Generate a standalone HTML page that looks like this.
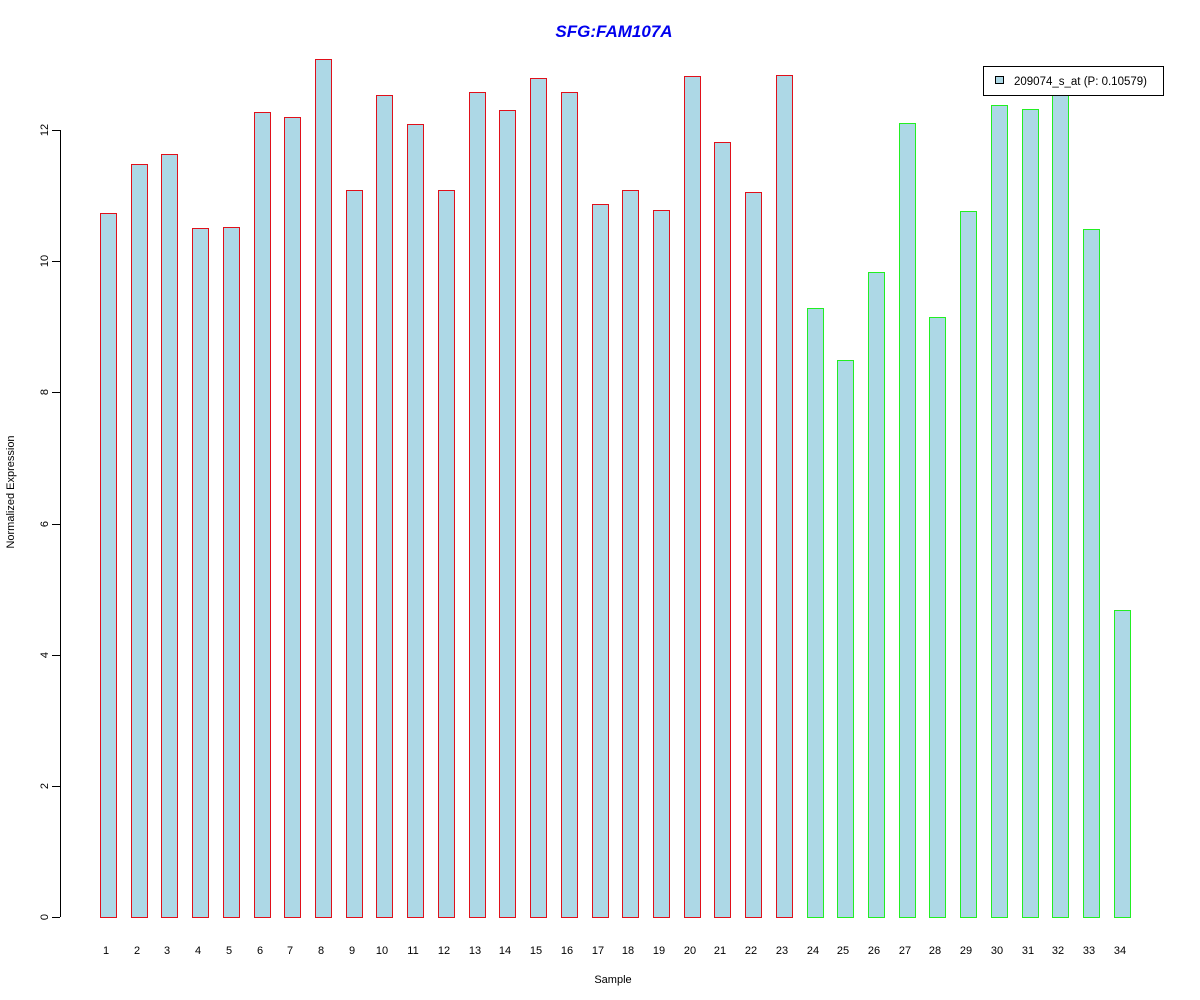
<!DOCTYPE html>
<html><head><meta charset="utf-8"><style>html,body{margin:0;padding:0;background:#fff}
.b{position:absolute;box-sizing:border-box;background:#add8e6;width:17px;bottom:82px;border:1px solid #e0101a}
.g{border-color:#22ee22}
.t{position:absolute;top:945px;font:11px "Liberation Sans",Arial,sans-serif;width:30px;margin-left:-15px;text-align:center}
</style></head>
<body>
<div style="position:relative;width:1200px;height:1000px;overflow:hidden">
<svg width="1200" height="1000" xmlns="http://www.w3.org/2000/svg" font-family="Liberation Sans, Arial, sans-serif" style="position:absolute;left:0;top:0">
<text x="614" y="37" text-anchor="middle" font-size="17" font-weight="bold" font-style="italic" fill="#0000ee">SFG:FAM107A</text>
<g stroke="#000" stroke-width="1" fill="none">
<line x1="60.5" y1="130" x2="60.5" y2="917"/>
<line x1="52" y1="917.5" x2="60" y2="917.5"/>
<line x1="52" y1="786.5" x2="60" y2="786.5"/>
<line x1="52" y1="655.5" x2="60" y2="655.5"/>
<line x1="52" y1="524.5" x2="60" y2="524.5"/>
<line x1="52" y1="392.5" x2="60" y2="392.5"/>
<line x1="52" y1="261.5" x2="60" y2="261.5"/>
<line x1="52" y1="130.5" x2="60" y2="130.5"/>
</g>
<g font-size="11" fill="#000" text-anchor="middle">
<text transform="translate(44,917) rotate(-90)" dy="4">0</text>
<text transform="translate(44,786) rotate(-90)" dy="4">2</text>
<text transform="translate(44,655) rotate(-90)" dy="4">4</text>
<text transform="translate(44,524) rotate(-90)" dy="4">6</text>
<text transform="translate(44,392) rotate(-90)" dy="4">8</text>
<text transform="translate(44,261) rotate(-90)" dy="4">10</text>
<text transform="translate(44,130) rotate(-90)" dy="4">12</text>
<text transform="translate(14,492) rotate(-90)">Normalized Expression</text>
<text x="613" y="983">Sample</text>
</g>
</svg>
<div class="b" style="left:100px;top:213px"></div>
<div class="b" style="left:131px;top:164px"></div>
<div class="b" style="left:161px;top:154px"></div>
<div class="b" style="left:192px;top:228px"></div>
<div class="b" style="left:223px;top:227px"></div>
<div class="b" style="left:254px;top:112px"></div>
<div class="b" style="left:284px;top:117px"></div>
<div class="b" style="left:315px;top:59px"></div>
<div class="b" style="left:346px;top:190px"></div>
<div class="b" style="left:376px;top:95px"></div>
<div class="b" style="left:407px;top:124px"></div>
<div class="b" style="left:438px;top:190px"></div>
<div class="b" style="left:469px;top:92px"></div>
<div class="b" style="left:499px;top:110px"></div>
<div class="b" style="left:530px;top:78px"></div>
<div class="b" style="left:561px;top:92px"></div>
<div class="b" style="left:592px;top:204px"></div>
<div class="b" style="left:622px;top:190px"></div>
<div class="b" style="left:653px;top:210px"></div>
<div class="b" style="left:684px;top:76px"></div>
<div class="b" style="left:714px;top:142px"></div>
<div class="b" style="left:745px;top:192px"></div>
<div class="b" style="left:776px;top:75px"></div>
<div class="b g" style="left:807px;top:308px"></div>
<div class="b g" style="left:837px;top:360px"></div>
<div class="b g" style="left:868px;top:272px"></div>
<div class="b g" style="left:899px;top:123px"></div>
<div class="b g" style="left:929px;top:317px"></div>
<div class="b g" style="left:960px;top:211px"></div>
<div class="b g" style="left:991px;top:105px"></div>
<div class="b g" style="left:1022px;top:109px"></div>
<div class="b g" style="left:1052px;top:92px"></div>
<div class="b g" style="left:1083px;top:229px"></div>
<div class="b g" style="left:1114px;top:610px"></div>
<div class="t" style="left:106px">1</div><div class="t" style="left:137px">2</div><div class="t" style="left:167px">3</div><div class="t" style="left:198px">4</div><div class="t" style="left:229px">5</div><div class="t" style="left:260px">6</div><div class="t" style="left:290px">7</div><div class="t" style="left:321px">8</div><div class="t" style="left:352px">9</div><div class="t" style="left:382px">10</div><div class="t" style="left:413px">11</div><div class="t" style="left:444px">12</div><div class="t" style="left:475px">13</div><div class="t" style="left:505px">14</div><div class="t" style="left:536px">15</div><div class="t" style="left:567px">16</div><div class="t" style="left:598px">17</div><div class="t" style="left:628px">18</div><div class="t" style="left:659px">19</div><div class="t" style="left:690px">20</div><div class="t" style="left:720px">21</div><div class="t" style="left:751px">22</div><div class="t" style="left:782px">23</div><div class="t" style="left:813px">24</div><div class="t" style="left:843px">25</div><div class="t" style="left:874px">26</div><div class="t" style="left:905px">27</div><div class="t" style="left:935px">28</div><div class="t" style="left:966px">29</div><div class="t" style="left:997px">30</div><div class="t" style="left:1028px">31</div><div class="t" style="left:1058px">32</div><div class="t" style="left:1089px">33</div><div class="t" style="left:1120px">34</div>
<div style="position:absolute;left:983px;top:66px;width:179px;height:28px;border:1px solid #000;background:#fff"></div>
<div style="position:absolute;left:995px;top:76px;width:7px;height:6px;border:1px solid #000;background:#add8e6"></div>
<div style="position:absolute;left:1014px;top:76px;font:11.5px 'Liberation Sans',Arial,sans-serif;white-space:nowrap">209074_s_at (P: 0.10579)</div>
</div>
</body></html>
